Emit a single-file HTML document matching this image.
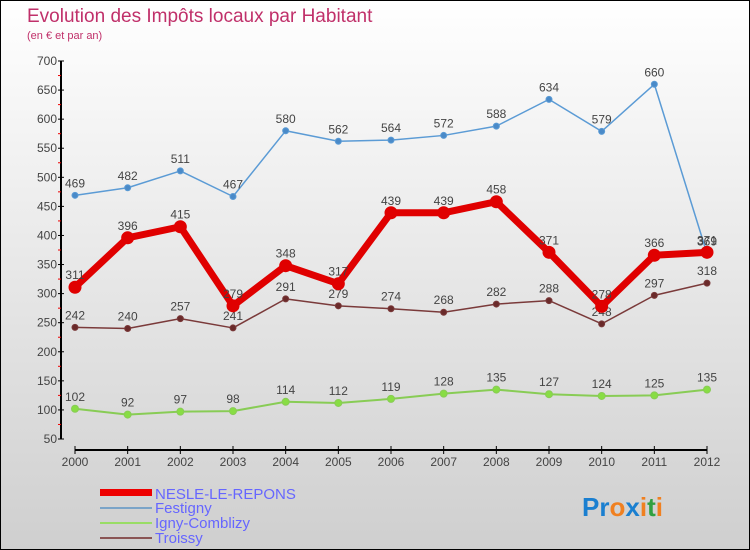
<!DOCTYPE html>
<html><head><meta charset="utf-8"><style>
body{margin:0}
svg{display:block;font-family:"Liberation Sans",sans-serif}
</style></head><body>
<svg width="750" height="550" viewBox="0 0 750 550">
<defs><linearGradient id="bg" x1="0" y1="0" x2="0" y2="1"><stop offset="0" stop-color="#ffffff"/><stop offset="1" stop-color="#cfcfcf"/></linearGradient></defs>
<rect x="0.5" y="0.5" width="749" height="549" fill="url(#bg)" stroke="#000"/>
<text x="27" y="22" font-size="19" fill="#c0306a">Evolution des Impôts locaux par Habitant</text>
<text x="27" y="39" font-size="11" fill="#c0306a">(en € et par an)</text>
<g id="axes"></g>
<g id="series"></g>
<g>
<rect x="100" y="489" width="52" height="7" fill="#e00"/>
<text x="155" y="499" font-size="15" fill="#6666ff">NESLE-LE-REPONS</text>
<rect x="100" y="507" width="52" height="2" fill="#7ba4c8"/>
<text x="155" y="513" font-size="15" fill="#6666ff">Festigny</text>
<rect x="100" y="522" width="52" height="2" fill="#99dd66"/>
<text x="155" y="528" font-size="15" fill="#6666ff">Igny-Comblizy</text>
<rect x="100" y="537" width="52" height="2" fill="#8a5555"/>
<text x="155" y="543" font-size="15" fill="#6666ff">Troissy</text>
</g>
<text x="582" y="516" font-size="26" font-weight="bold"><tspan fill="#1a7fd0">Pr</tspan><tspan fill="#f08020">o</tspan><tspan fill="#1a7fd0">x</tspan><tspan fill="#f08020">i</tspan><tspan fill="#30a040">t</tspan><tspan fill="#f08020">i</tspan></text>
</svg>
<script>
const years=[2000,2001,2002,2003,2004,2005,2006,2007,2008,2009,2010,2011,2012];
const yTicks=[50,100,150,200,250,300,350,400,450,500,550,600,650,700];
const nesle=[311,396,415,279,348,317,439,439,458,371,278,366,371];
const festigny=[469,482,511,467,580,562,564,572,588,634,579,660,369];
const igny=[102,92,97,98,114,112,119,128,135,127,124,125,135];
const troissy=[242,240,257,241,291,279,274,268,282,288,248,297,318];
const NS="http://www.w3.org/2000/svg";
const X=i=>75+i*(632/12);
const Y=v=>439-(v-50)*(378/650);
function mk(t,a,p){const e=document.createElementNS(NS,t);for(const k in a)e.setAttribute(k,a[k]);p.appendChild(e);return e;}
const ax=document.getElementById('axes');
let l=mk('line',{x1:61,y1:61,x2:61,y2:439,stroke:'#000','stroke-width':2},ax);


l=mk('line',{x1:75,y1:450,x2:707,y2:450,stroke:'#000','stroke-width':2},ax);


yTicks.forEach(v=>{
 mk('line',{x1:58,x2:64,y1:Y(v),y2:Y(v),stroke:'#000'},ax);
 if(v<700)mk('line',{x1:58,x2:61,y1:Y(v+25),y2:Y(v+25),stroke:'#e00'},ax);
 const t=mk('text',{x:57,y:Y(v)+4,'text-anchor':'end','font-size':12,fill:'#444'},ax);
 t.textContent=v;
 
 
});
years.forEach((y,i)=>{
 mk('line',{x1:X(i),x2:X(i),y1:446,y2:454,stroke:'#000'},ax);
 const t=mk('text',{x:X(i),y:466,'text-anchor':'middle','font-size':12,fill:'#444'},ax);
 t.textContent=y;
 
 
});
const sg=document.getElementById('series');
function series(name,vals,color,w,r,dot){
 const g=mk('g',{},sg);
 
 
 const pl=mk('polyline',{points:vals.map((v,i)=>X(i)+','+Y(v)).join(' '),fill:'none',stroke:color,'stroke-width':w,'stroke-linejoin':'round'},g);
 
 
 vals.forEach((v,i)=>{
  const c=mk('circle',{cx:X(i),cy:Y(v),r:r,fill:dot,stroke:color,'stroke-width':1},g);
  
  
  const t=mk('text',{x:X(i),y:Y(v)-8,'text-anchor':'middle','font-size':12,fill:'#444'},g);
  t.textContent=v;
  
  
 });
}
series('igny',igny,'#88cc55',2,3.5,'#88dd44');
series('troissy',troissy,'#7a3a3a',1.5,3,'#6a2a2a');
series('festigny',festigny,'#5b9bd5',1.5,3,'#4a8ac8');
series('nesle',nesle,'#e00000',7,6,'#e00000');
</script>
</body></html>
